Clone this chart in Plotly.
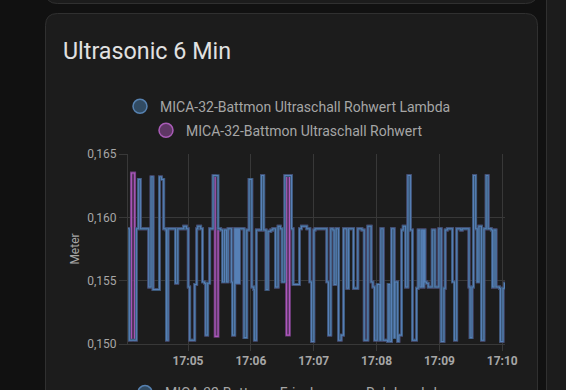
import plotly.graph_objects as go

# ---------------- data ----------------
DAY = "2024-01-01 "
TIMES = [
    # 17:04
    "17:04:00.0", "17:04:04.0", "17:04:05.9", "17:04:09.1", "17:04:10.7", "17:04:12.6", "17:04:14.5",
    "17:04:22.5", "17:04:24.7", "17:04:26.6", "17:04:32.7", "17:04:34.6", "17:04:36.8", "17:04:39.0",
    "17:04:39.4", "17:04:40.9", "17:04:48.0", "17:04:50.2", "17:04:55.9", "17:04:58.5",
    # 17:05
    "17:05:00.2", "17:05:01.6", "17:05:06.4", "17:05:08.3", "17:05:09.3", "17:05:12.1", "17:05:13.8",
    "17:05:15.7", "17:05:16.9", "17:05:18.8", "17:05:20.7", "17:05:23.9", "17:05:25.8", "17:05:28.7",
    "17:05:31.2", "17:05:32.9", "17:05:34.8", "17:05:36.7", "17:05:38.2", "17:05:41.5", "17:05:42.4",
    "17:05:44.6", "17:05:45.6", "17:05:46.2", "17:05:46.8", "17:05:47.5", "17:05:48.2", "17:05:49.1",
    "17:05:53.5", "17:05:56.1", "17:05:58.3",
    # 17:06
    "17:06:00.9", "17:06:02.8", "17:06:03.3", "17:06:05.2", "17:06:10.1", "17:06:12.3", "17:06:14.5",
    "17:06:16.4", "17:06:19.0", "17:06:20.9", "17:06:23.5", "17:06:26.0", "17:06:28.1", "17:06:29.8",
    "17:06:32.4", "17:06:34.0", "17:06:36.9", "17:06:38.8", "17:06:40.3", "17:06:46.4", "17:06:48.2",
    "17:06:53.4", "17:06:56.3", "17:06:57.9",
    # 17:07
    "17:07:00.1", "17:07:01.3", "17:07:12.5", "17:07:14.1", "17:07:16.3", "17:07:18.3", "17:07:19.5",
    "17:07:21.4", "17:07:23.7", "17:07:26.2", "17:07:28.5", "17:07:31.6", "17:07:33.3", "17:07:38.0",
    "17:07:42.1", "17:07:46.0", "17:07:48.2", "17:07:51.7", "17:07:54.8", "17:07:56.5", "17:07:58.1",
    # 17:08
    "17:08:00.6", "17:08:03.2", "17:08:04.1", "17:08:06.3", "17:08:10.5", "17:08:11.1", "17:08:12.7",
    "17:08:14.3", "17:08:16.8", "17:08:17.5", "17:08:20.1", "17:08:21.3", "17:08:23.9", "17:08:25.4",
    "17:08:27.7", "17:08:29.9", "17:08:32.3", "17:08:34.2", "17:08:38.2", "17:08:39.7", "17:08:41.4",
    "17:08:43.0", "17:08:44.2", "17:08:45.2", "17:08:46.2", "17:08:47.6", "17:08:49.3", "17:08:53.1",
    "17:08:55.7", "17:08:59.5",
    # 17:09
    "17:09:01.7", "17:09:04.3", "17:09:05.5", "17:09:07.5", "17:09:12.4", "17:09:14.3", "17:09:16.5",
    "17:09:20.3", "17:09:21.8", "17:09:28.2", "17:09:29.3", "17:09:31.1", "17:09:32.5", "17:09:34.6",
    "17:09:36.1", "17:09:37.7", "17:09:40.1", "17:09:42.5", "17:09:44.6", "17:09:46.5", "17:09:49.5",
    "17:09:50.6", "17:09:52.1", "17:09:54.0", "17:09:57.3", "17:09:58.3",
    # 17:10
    "17:10:00.7", "17:10:02.1", "17:10:03.0",
]

LAMBDA = [
    # 17:04
    0.1591, 0.1503, 0.1503, 0.1503, 0.1591, 0.1630, 0.1591,
    0.1545, 0.1632, 0.1543, 0.1632, 0.1630, 0.1591, 0.1590,
    0.1503, 0.1591, 0.1548, 0.1591, 0.1593, 0.1591,
    # 17:05
    0.1545, 0.1503, 0.1547, 0.1591, 0.1593, 0.1591, 0.1549,
    0.1548, 0.1507, 0.1548, 0.1591, 0.1633, 0.1633, 0.1591,
    0.1590, 0.1549, 0.1590, 0.1549, 0.1591, 0.1549, 0.1507,
    0.1591, 0.1548, 0.1591, 0.1548, 0.1591, 0.1548, 0.1591,
    0.1505, 0.1590, 0.1630,
    # 17:06
    0.1545, 0.1543, 0.1503, 0.1590, 0.1633, 0.1590, 0.1543,
    0.1589, 0.1590, 0.1591, 0.1545, 0.1593, 0.1591, 0.1549,
    0.1633, 0.1633, 0.1633, 0.1591, 0.1547, 0.1591, 0.1593,
    0.1591, 0.1549, 0.1502,
    # 17:07
    0.1590, 0.1591, 0.1549, 0.1507, 0.1591, 0.1590, 0.1547,
    0.1591, 0.1503, 0.1507, 0.1591, 0.1544, 0.1591, 0.1544,
    0.1591, 0.1590, 0.1503, 0.1593, 0.1549, 0.1545, 0.1503,
    # 17:08
    0.1547, 0.1503, 0.1591, 0.1503, 0.1502, 0.1547, 0.1502,
    0.1591, 0.1505, 0.1549, 0.1502, 0.1507, 0.1590, 0.1593,
    0.1545, 0.1633, 0.1590, 0.1503, 0.1544, 0.1590, 0.1545,
    0.1590, 0.1545, 0.1590, 0.1549, 0.1548, 0.1545, 0.1590,
    0.1545, 0.1591,
    # 17:09
    0.1502, 0.1544, 0.1590, 0.1591, 0.1549, 0.1503, 0.1591,
    0.1590, 0.1591, 0.1545, 0.1505, 0.1545, 0.1633, 0.1591,
    0.1549, 0.1593, 0.1503, 0.1591, 0.1633, 0.1591, 0.1590,
    0.1545, 0.1590, 0.1545, 0.1544, 0.1502,
    # 17:10
    0.1544, 0.1548, 0.1548,
]

ROHWERT = [
    # 17:04
    0.1591, 0.1503, 0.1635, 0.1503, 0.1591, 0.1630, 0.1591,
    0.1545, 0.1632, 0.1543, 0.1632, 0.1630, 0.1591, 0.1590,
    0.1503, 0.1591, 0.1548, 0.1591, 0.1593, 0.1591,
    # 17:05
    0.1545, 0.1503, 0.1547, 0.1591, 0.1593, 0.1591, 0.1549,
    0.1548, 0.1507, 0.1548, 0.1591, 0.1633, 0.1506, 0.1591,
    0.1590, 0.1549, 0.1590, 0.1549, 0.1591, 0.1549, 0.1507,
    0.1591, 0.1548, 0.1591, 0.1548, 0.1591, 0.1548, 0.1591,
    0.1505, 0.1590, 0.1630,
    # 17:06
    0.1545, 0.1543, 0.1503, 0.1590, 0.1633, 0.1590, 0.1543,
    0.1589, 0.1590, 0.1591, 0.1545, 0.1593, 0.1591, 0.1549,
    0.1633, 0.1507, 0.1633, 0.1591, 0.1547, 0.1591, 0.1593,
    0.1591, 0.1549, 0.1502,
    # 17:07
    0.1590, 0.1591, 0.1549, 0.1507, 0.1591, 0.1590, 0.1547,
    0.1591, 0.1503, 0.1507, 0.1591, 0.1544, 0.1591, 0.1544,
    0.1591, 0.1590, 0.1503, 0.1593, 0.1549, 0.1545, 0.1503,
    # 17:08
    0.1547, 0.1503, 0.1591, 0.1503, 0.1502, 0.1547, 0.1502,
    0.1591, 0.1505, 0.1549, 0.1502, 0.1507, 0.1590, 0.1593,
    0.1545, 0.1633, 0.1590, 0.1503, 0.1544, 0.1590, 0.1545,
    0.1590, 0.1545, 0.1590, 0.1549, 0.1548, 0.1545, 0.1590,
    0.1545, 0.1591,
    # 17:09
    0.1502, 0.1544, 0.1590, 0.1591, 0.1549, 0.1503, 0.1591,
    0.1590, 0.1591, 0.1545, 0.1505, 0.1545, 0.1633, 0.1591,
    0.1549, 0.1593, 0.1503, 0.1591, 0.1633, 0.1591, 0.1590,
    0.1545, 0.1590, 0.1545, 0.1544, 0.1502,
    # 17:10
    0.1544, 0.1548, 0.1548,
]

assert len(TIMES) == len(LAMBDA) == len(ROHWERT)

SERIES_NAMES = [
    "MICA-32-Battmon Ultraschall Rohwert Lambda",
    "MICA-32-Battmon Ultraschall Rohwert",
]
NEXT_CHART_NAME = "MICA-32-Battmon Frischwasser Roh Lambda"
TITLE = "Ultrasonic 6 Min"
Y_TITLE = "Meter"
X_RANGE = ["17:04:02.7", "17:10:02.6"]
Y_RANGE = [0.150, 0.165]

# ---------------- layout constants ----------------
W, H = 566, 390
ML, MR, MT, MB = 128, 61, 154, 46
PW, PH = W - ML - MR, H - MT - MB

def fx(px):
    return (px - ML) / PW

def fy(py):
    return (H - MB - py) / PH

PAGE_BG = "#111111"
CARD_BG = "#1c1c1c"
CARD_BORDER = "#303030"
GRID = "#383838"
TXT = "#a6a6a6"
FONT = "Roboto"

BLUE_EDGE, BLUE_CORE = "#3b5878", "#5680b6"
PURP_EDGE, PURP_CORE = "#6d3d78", "#ad58bd"

x = [DAY + t for t in TIMES]

fig = go.Figure()

def add_series(y, edge, core):
    fig.add_trace(go.Scatter(x=x, y=y, mode="lines", line=dict(shape="hv", color=edge, width=2.8),
                             showlegend=False, hoverinfo="skip"))
    fig.add_trace(go.Scatter(x=x, y=y, mode="lines", line=dict(shape="hv", color=core, width=1.1),
                             showlegend=False, hoverinfo="skip"))

add_series(ROHWERT, PURP_EDGE, PURP_CORE)
add_series(LAMBDA, BLUE_EDGE, BLUE_CORE)

# legend entries
fig.add_trace(go.Scatter(x=[None], y=[None], mode="markers", name=SERIES_NAMES[0], legend="legend",
                         marker=dict(size=14, color="rgba(68,115,158,0.55)", line=dict(color="#5681b0", width=1.5))))
fig.add_trace(go.Scatter(x=[None], y=[None], mode="markers", name=SERIES_NAMES[1], legend="legend2",
                         marker=dict(size=14, color="rgba(152,78,163,0.55)", line=dict(color="#a85bb6", width=1.5))))
fig.add_trace(go.Scatter(x=[None], y=[None], mode="markers", name=NEXT_CHART_NAME, legend="legend3",
                         marker=dict(size=14, color="rgba(68,115,158,0.55)", line=dict(color="#5681b0", width=1.5))))

def card_path(x0, x1, y0, y1, r, round_top=True):
    if round_top:
        return (f"M {fx(x0)},{fy(y1)} L {fx(x0)},{fy(y0 + r)} Q {fx(x0)},{fy(y0)} {fx(x0 + r)},{fy(y0)} "
                f"L {fx(x1 - r)},{fy(y0)} Q {fx(x1)},{fy(y0)} {fx(x1)},{fy(y0 + r)} L {fx(x1)},{fy(y1)} Z")
    return (f"M {fx(x0)},{fy(y0)} L {fx(x0)},{fy(y1 - r)} Q {fx(x0)},{fy(y1)} {fx(x0 + r)},{fy(y1)} "
            f"L {fx(x1 - r)},{fy(y1)} Q {fx(x1)},{fy(y1)} {fx(x1)},{fy(y1 - r)} L {fx(x1)},{fy(y0)} Z")

shapes = [
    dict(type="path", xref="paper", yref="paper", layer="below",
         path=card_path(45.5, 537.5, 13.5, 430, 12, True),
         fillcolor=CARD_BG, line=dict(color=CARD_BORDER, width=1)),
    dict(type="path", xref="paper", yref="paper", layer="below",
         path=card_path(45.5, 537.5, -40, 3.5, 12, False),
         fillcolor=CARD_BG, line=dict(color=CARD_BORDER, width=1)),
    dict(type="rect", xref="paper", yref="paper", layer="below",
         x0=fx(546.5), x1=fx(620), y0=fy(-40), y1=fy(430),
         fillcolor=CARD_BG, line=dict(color=CARD_BORDER, width=1)),
]

legend_common = dict(xanchor="left", yanchor="middle", bgcolor="rgba(0,0,0,0)", borderwidth=0,
                     font=dict(family=FONT, size=14, color=TXT), orientation="h")

fig.update_layout(
    width=W, height=H,
    margin=dict(l=ML, r=MR, t=MT, b=MB, autoexpand=False),
    paper_bgcolor=PAGE_BG, plot_bgcolor="rgba(0,0,0,0)",
    separators=",.",
    shapes=shapes,
    title=dict(text=TITLE, x=63 / W, xref="container", xanchor="left",
               y=1 - 51 / H, yref="container", yanchor="middle",
               font=dict(family=FONT, size=23.3, color="#e1e1e1")),
    legend=dict(x=fx(120), y=fy(106.7), **legend_common),
    legend2=dict(x=fx(146), y=fy(130.7), **legend_common),
    legend3=dict(x=fx(125), y=fy(393), **legend_common),
    xaxis=dict(type="date", range=[DAY + X_RANGE[0], DAY + X_RANGE[1]],
               tick0=DAY + "17:05:00", dtick=60000, tickformat="%H:%M",
               showgrid=True, gridcolor=GRID, gridwidth=1, zeroline=False,
               showline=True, linecolor=GRID, linewidth=1,
               ticks="outside", ticklen=6, tickcolor=GRID,
               tickfont=dict(family=FONT, size=12, color=TXT, weight="bold"),
               automargin=False),
    yaxis=dict(range=Y_RANGE, tick0=0.150, dtick=0.005, tickformat=".3f",
               showgrid=True, gridcolor=GRID, gridwidth=1, zeroline=False,
               showline=True, linecolor=GRID, linewidth=1,
               ticks="outside", ticklen=8, tickcolor=GRID,
               tickfont=dict(family=FONT, size=12, color=TXT),
               title=dict(text=Y_TITLE, font=dict(family=FONT, size=12, color=TXT), standoff=5),
               automargin=False),
    hovermode=False,
)

fig.write_html(
    "out.html",
    config={"displayModeBar": False},
    post_script="document.body.style.margin='0';document.body.style.background='#111111';",
)
